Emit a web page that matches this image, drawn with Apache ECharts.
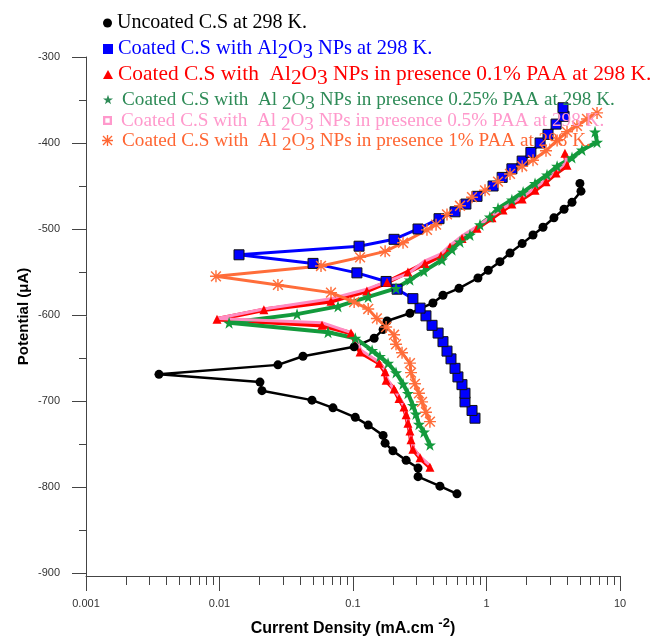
<!DOCTYPE html>
<html>
<head>
<meta charset="utf-8">
<script src="https://cdn.jsdelivr.net/npm/echarts@6/dist/echarts.min.js"></script>
<style>
  html, body { margin: 0; padding: 0; background: #fff; }
  #chart { width: 652px; height: 637px; }
</style>
</head>
<body>
<div id="chart"></div>
<script>
// Potentiodynamic polarization curves: current density (log) vs potential.
// Each curve runs from the cathodic end, through the corrosion point, to the anodic end.

const uncoatedI = [0.601, 0.448, 0.307, 0.307, 0.250, 0.199, 0.174, 0.168, 0.130, 0.104, 0.0708, 0.0493, 0.0208, 0.0201, 0.00352,
  0.0274, 0.0422, 0.102, 0.144, 0.168, 0.180, 0.267, 0.397, 0.472, 0.622, 0.863, 1.03, 1.26, 1.50, 1.85, 2.23, 2.65, 3.20, 3.81, 4.37, 5.10, 5.01];
const uncoatedE = [-808, -799, -788, -778, -769, -758, -749, -740, -728, -719, -708, -699, -688, -678, -669,
  -658, -648, -637, -627, -617, -607, -598, -586, -577, -569, -557, -548, -538, -528, -517, -507, -498, -487, -477, -469, -456, -447];

const coatedI = [0.820, 0.779, 0.690, 0.690, 0.655, 0.611, 0.581, 0.542, 0.506, 0.472, 0.434, 0.391, 0.352, 0.318, 0.281, 0.214, 0.177, 0.107, 0.0502, 0.0140,
  0.111, 0.203, 0.307, 0.441, 0.581, 0.701, 0.849, 1.12, 1.31, 1.55, 1.85, 2.15, 2.52, 2.89, 3.32, 3.81, 3.74];
const coatedE = [-720, -711, -701, -691, -681, -672, -662, -651, -642, -631, -621, -612, -601, -592, -581, -570, -561, -551, -540, -530,
  -520, -512, -500, -488, -480, -471, -462, -450, -440, -430, -421, -411, -400, -390, -378, -369, -359];

const paa01I = [0.377, 0.318, 0.281, 0.272, 0.267, 0.258, 0.250, 0.241, 0.221, 0.203, 0.177, 0.174, 0.157, 0.113, 0.0966, 0.0586, 0.00958,
  0.0215, 0.0684, 0.127, 0.180, 0.258, 0.346, 0.456, 0.533, 0.656, 0.849, 1.10, 1.33, 1.55, 1.85, 2.31, 2.79, 3.32, 4.01, 3.87];
const paa01E = [-777, -766, -756, -745, -735, -726, -716, -707, -697, -686, -676, -666, -656, -643, -621, -612, -605,
  -594, -584, -572, -562, -550, -540, -531, -521, -511, -499, -487, -478, -471, -465, -455, -445, -435, -426, -412];

const paa025I = [0.377, 0.340, 0.312, 0.296, 0.281, 0.258, 0.237, 0.210, 0.183, 0.159, 0.139, 0.104, 0.0650, 0.0118,
  0.0381, 0.0772, 0.130, 0.210, 0.267, 0.340, 0.464, 0.552, 0.633, 0.752, 0.894, 1.06, 1.22, 1.55, 1.88, 2.31, 2.84, 3.38, 4.37, 5.19, 6.73, 6.50];
const paa025E = [-751, -736, -727, -715, -705, -691, -680, -667, -656, -648, -641, -627, -620, -609,
  -599, -590, -579, -569, -559, -549, -536, -524, -515, -507, -495, -486, -476, -466, -457, -447, -437, -427, -417, -408, -399, -387];

const paa05I = [0.371, 0.318, 0.281, 0.272, 0.263, 0.254, 0.245, 0.221, 0.199, 0.180, 0.174, 0.154, 0.115, 0.107, 0.0949, 0.0586, 0.00958,
  0.0215, 0.0684, 0.127, 0.258, 0.346, 0.456, 0.533, 0.656, 0.849, 1.10, 1.33, 1.55, 1.85, 2.31, 2.79, 3.32, 3.94, 3.94];
const paa05E = [-774, -765, -754, -743, -731, -721, -709, -695, -685, -674, -664, -654, -641, -630, -620, -609, -604,
  -593, -581, -570, -552, -537, -529, -519, -508, -497, -485, -476, -470, -463, -452, -443, -433, -423, -414];

const paa1I = [0.377, 0.352, 0.329, 0.312, 0.291, 0.272, 0.267, 0.233, 0.210, 0.203, 0.177, 0.151, 0.130, 0.102, 0.0684, 0.0274, 0.00941,
  0.0576, 0.113, 0.174, 0.237, 0.358, 0.419, 0.506, 0.633, 0.779, 0.975, 1.22, 1.50, 1.85, 2.23, 2.79, 3.38, 4.01, 4.76, 5.66, 6.73];
const paa1E = [-724, -713, -701, -691, -680, -667, -656, -644, -634, -623, -614, -604, -593, -585, -574, -565, -555,
  -543, -533, -526, -516, -501, -495, -483, -473, -463, -455, -445, -436, -427, -420, -409, -397, -387, -380, -372, -365];

// Axis ticks
const yMajorTicks = [-900, -800, -700, -600, -500, -400, -300];
const yMinorTicks = [-850, -750, -650, -550, -450, -350];
const xDecades = [0.001, 0.01, 0.1, 1, 10];
const xMinorMultipliers = [2, 3, 4, 5, 6, 7, 8, 9];

// Minor log ticks, expressed in log10 space for the helper axis
const xMinorLog = [];
xDecades.slice(0, -1).forEach(d => xMinorMultipliers.forEach(m => xMinorLog.push(Math.log10(d * m))));

const zip = (xs, ys) => xs.map((x, i) => [x, ys[i]]);

// Marker shapes
const STAR = 'path://M50,0 L61.8,35.1 L98.1,35.1 L68.8,56.8 L79.4,90.5 L50,69.4 L20.6,90.5 L31.2,56.8 L1.9,35.1 L38.2,35.1 Z';
const ASTERISK = 'path://M44,0H56V100H44Z M0,44H100V56H0Z M13.4,4.9 L95.1,86.6 L86.6,95.1 L4.9,13.4Z M86.6,4.9 L95.1,13.4 L13.4,95.1 L4.9,86.6Z';
const HOLLOW_SQUARE = 'path://M0,0H10V10H0Z M2.6,2.6V7.4H7.4V2.6Z';

const names = [
  'Uncoated C.S at 298 K.',
  'Coated C.S with Al2O3 NPs at 298 K.',
  'Coated C.S with  Al2O3 NPs in presence 0.1% PAA at 298 K.',
  'Coated C.S with  Al 2O3 NPs in presence 0.25% PAA at 298 K.',
  'Coated C.S with  Al 2O3 NPs in presence 0.5% PAA at 298 K.',
  'Coated C.S with  Al 2O3 NPs in presence 1% PAA at 298 K.'
];

const legendRows = [
  { name: names[0], text: 'Uncoated C.S at 298 K.', color: '#000000', size: 20, icon: 'circle', w: 9, h: 9, top: 13, left: 103, pad: 0 },
  { name: names[1], text: 'Coated C.S with Al{d|2}O{d|3} NPs at 298 K.', color: '#0000ff', size: 20.4, icon: 'rect', w: 10, h: 10, top: 39, left: 103, pad: 0 },
  { name: names[2], text: 'Coated C.S with  Al{d|2}O{d|3} NPs in presence 0.1% PAA at 298 K.', color: '#ff0000', size: 21.4, icon: 'triangle', w: 10, h: 9, top: 64, left: 103, pad: 0 },
  { name: names[3], text: 'Coated C.S with  Al {d|2}O{d|3} NPs in presence 0.25% PAA at 298 K.', color: '#2e8b57', size: 19.2, icon: STAR, w: 10, h: 10, top: 90, left: 103, pad: 4 },
  { name: names[4], text: 'Coated C.S with  Al {d|2}O{d|3} NPs in presence 0.5% PAA at 298 K.', color: '#ff99cc', size: 19.2, icon: HOLLOW_SQUARE, w: 9, h: 9, top: 111, left: 103, pad: 4 },
  { name: names[5], text: 'Coated C.S with  Al {d|2}O{d|3} NPs in presence 1% PAA at 298 K.', color: '#ff6633', size: 19.2, icon: ASTERISK, w: 11, h: 11, top: 131, left: 102, pad: 4 }
];

const legends = legendRows.map(r => ({
  show: true,
  selectedMode: false,
  orient: 'vertical',
  left: r.left,
  top: r.top,
  padding: 0,
  itemWidth: r.w,
  itemHeight: r.h,
  data: [{ name: r.name, icon: r.icon, itemStyle: { color: r.color, borderWidth: 0 } }],
  formatter: () => r.text,
  textStyle: {
    color: r.color,
    fontFamily: 'Liberation Serif',
    fontSize: r.size,
    padding: [0, 0, 0, r.pad],
    rich: {
      d: { color: r.color, fontFamily: 'Liberation Serif', fontSize: r.size, padding: [8, 0, 0, 0] }
    }
  }
}));

const tickColor = '#444';
const labelStyle = { fontFamily: 'Liberation Sans', fontSize: 11, color: '#333' };

const option = {
  animation: false,
  backgroundColor: '#ffffff',
  legend: legends,
  grid: { left: 86, right: 32, top: 57, bottom: 61, containLabel: false, outerBoundsMode: 'none' },
  xAxis: [
    {
      type: 'log',
      logBase: 10,
      min: 0.001,
      max: 10,
      position: 'bottom',
      axisLine: { show: true, onZero: false, lineStyle: { color: tickColor, width: 1 } },
      axisTick: { show: true, length: 15, lineStyle: { color: tickColor, width: 1 } },
      axisLabel: Object.assign({ margin: 22, formatter: v => String(+v.toPrecision(3)) }, labelStyle),
      splitLine: { show: false },
      minorTick: { show: false },
      name: '{n|Current Density (mA.cm }{s|-2}{n|)}',
      nameLocation: 'middle',
      nameGap: 41,
      nameTextStyle: {
        rich: {
          n: { fontFamily: 'Liberation Sans', fontWeight: 'bold', fontSize: 16, color: '#000' },
          s: { fontFamily: 'Liberation Sans', fontWeight: 'bold', fontSize: 13, color: '#000', padding: [0, 0, 11, 0] }
        }
      }
    },
    {
      // helper axis in log10 space that carries the 2..9 minor ticks
      type: 'value',
      min: -3,
      max: 1,
      position: 'bottom',
      axisLine: { show: false, onZero: false },
      axisTick: { show: true, length: 9, customValues: xMinorLog, lineStyle: { color: tickColor, width: 1 } },
      axisLabel: { show: false },
      splitLine: { show: false }
    }
  ],
  yAxis: [
    {
      type: 'value',
      min: -903.5,
      max: -300,
      position: 'left',
      axisLine: { show: true, onZero: false, lineStyle: { color: tickColor, width: 1 } },
      axisTick: { show: true, length: 14, customValues: yMajorTicks, lineStyle: { color: tickColor, width: 1 } },
      axisLabel: Object.assign({ margin: 26, customValues: yMajorTicks }, labelStyle),
      splitLine: { show: false },
      name: 'Potential (\u03bcA)',
      nameLocation: 'middle',
      nameGap: 55,
      nameMoveOverlap: false,
      nameTextStyle: { fontFamily: 'Liberation Sans', fontWeight: 'bold', fontSize: 15, color: '#000' }
    },
    {
      type: 'value',
      min: -903.5,
      max: -300,
      position: 'left',
      axisLine: { show: false, onZero: false },
      axisTick: { show: true, length: 7, customValues: yMinorTicks, lineStyle: { color: tickColor, width: 1 } },
      axisLabel: { show: false },
      splitLine: { show: false }
    }
  ],
  series: [
    {
      name: names[0], type: 'line', xAxisIndex: 0, yAxisIndex: 0,
      data: zip(uncoatedI, uncoatedE),
      symbol: 'circle', symbolSize: 9,
      lineStyle: { color: '#000', width: 2.5 },
      itemStyle: { color: '#000' }
    },
    {
      name: names[1], type: 'line', xAxisIndex: 0, yAxisIndex: 0,
      data: zip(coatedI, coatedE),
      symbol: 'rect', symbolSize: 10,
      lineStyle: { color: '#0000ff', width: 3 },
      itemStyle: { color: '#0000ff', borderColor: '#111', borderWidth: 1 }
    },
    {
      name: names[2], type: 'line', xAxisIndex: 0, yAxisIndex: 0,
      data: zip(paa01I, paa01E),
      symbol: 'triangle', symbolSize: 9,
      lineStyle: { color: '#ff0000', width: 4.5 },
      itemStyle: { color: '#ff0000' }
    },
    {
      name: names[3], type: 'line', xAxisIndex: 0, yAxisIndex: 0,
      data: zip(paa025I, paa025E),
      symbol: STAR, symbolSize: 12,
      lineStyle: { color: '#139a3c', width: 4 },
      itemStyle: { color: '#139a3c' }
    },
    {
      name: names[4], type: 'line', xAxisIndex: 0, yAxisIndex: 0,
      data: zip(paa05I, paa05E),
      symbol: 'rect', symbolSize: 4, showSymbol: false,
      lineStyle: { color: '#ff8cc2', width: 3 },
      itemStyle: { color: '#ff8cc2' }
    },
    {
      name: names[5], type: 'line', xAxisIndex: 0, yAxisIndex: 0,
      data: zip(paa1I, paa1E),
      symbol: ASTERISK, symbolSize: 12,
      lineStyle: { color: '#ff6d3a', width: 3 },
      itemStyle: { color: '#ff6d3a' }
    }
  ]
};

const chart = echarts.init(document.getElementById('chart'), null, { renderer: 'canvas' });
chart.setOption(option);
</script>
</body>
</html>
